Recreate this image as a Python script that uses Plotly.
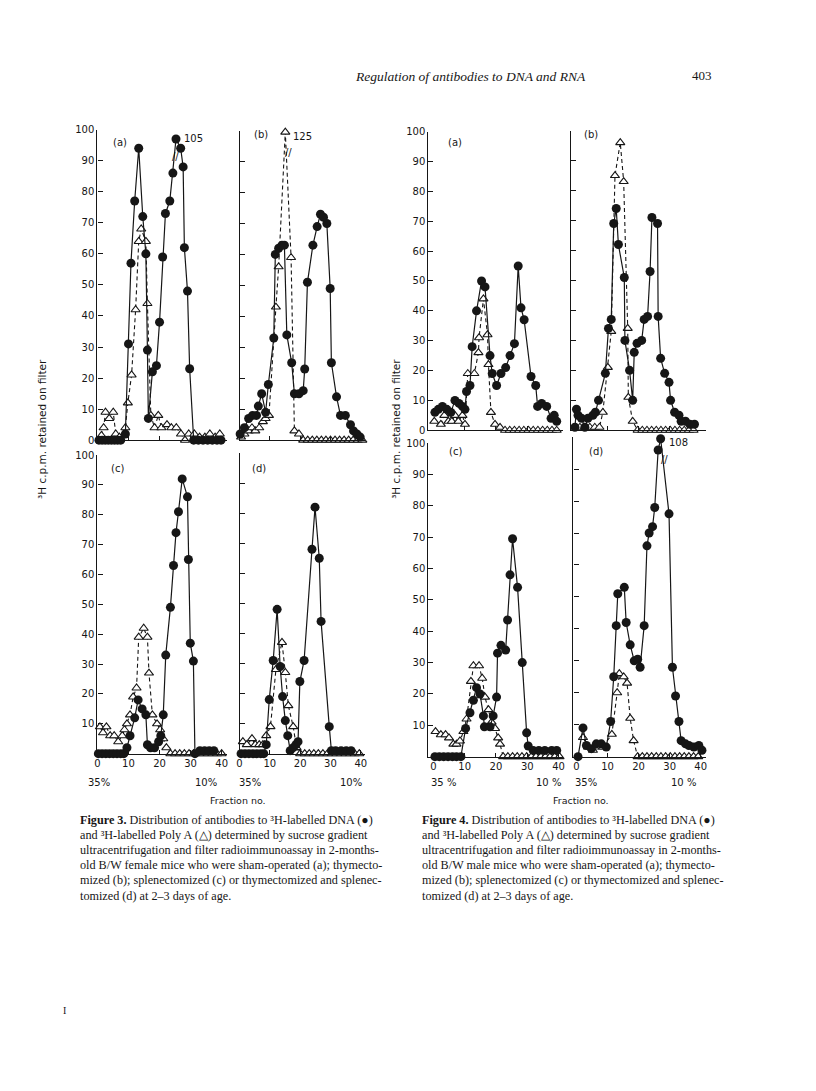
import plotly.graph_objects as go

W, H = 816, 1091
INK = "#161616"
SANS = "DejaVu Sans"
SERIF = "Liberation Serif"

# ---- data: fraction no. vs 3H c.p.m. retained on filter ----
# Figure 3 (female B/W mice)
f3a_dna_x = [0.5, 1.5, 2.5, 3.5, 4.5, 5.5, 6.5, 7.5, 9.0, 10.0, 10.8, 12.0, 13.3, 14.6, 15.6, 16.1, 16.4, 17.7, 19.0,
             20.0, 21.0, 21.9, 23.3, 24.3, 25.3, 26.8, 27.6, 28.0, 29.0, 29.7, 31.0, 32.5, 34.0, 35.5, 37.0, 38.5, 39.8]
f3a_dna_y = [0, 0, 0, 0, 0, 0, 0, 0, 2, 31, 57, 77, 94, 72, 60, 29, 7, 22, 24,
             38, 59, 73, 77, 86, 105, 94, 88, 62, 48, 23, 0, 0, 0, 0, 0, 0, 0]
f3a_pa_x = [1.3, 2.0, 2.6, 3.8, 5.1, 5.9, 7.1, 9.0, 9.8, 11.0, 12.3, 13.3, 14.1, 15.6, 16.1, 17.2,
            18.4, 19.6, 20.6, 22.4, 23.8, 25.4, 26.9, 28.2, 29.4, 31.2, 32.9, 34.6, 36.2, 37.9, 39.4]
f3a_pa_y = [1.5, 4, 9, 7, 9, 2, 1, 4, 12, 21, 42, 64, 68, 64, 44, 8,
            4, 8, 4, 5, 4, 4, 2, 0, 2, 2, 1, 1, 2, 1, 2]

f3b_dna_x = [0.2, 1.6, 3.0, 4.3, 5.6, 6.2, 7.3, 8.6, 9.5, 11.3, 11.8, 12.9, 14.0, 14.8, 15.6, 17.2, 18.1, 19.6,
             21.0, 21.5, 22.4, 24.2, 25.6, 26.7, 27.7, 28.8, 29.9, 30.3, 32.0, 33.3, 34.9, 36.6, 37.6, 38.7, 39.8]
f3b_dna_y = [2, 4, 7, 8, 8, 11, 15, 9, 18, 33, 60, 62, 63, 63, 34, 25, 15, 15,
             16, 23, 51, 63, 69, 73, 72, 70, 49, 25, 14, 8, 8, 5, 3, 2, 1]
f3b_pa_x = [0.5, 1.6, 3.0, 4.1, 5.2, 6.5, 7.7, 8.6, 9.7, 12.0, 12.9, 15.1, 17.0, 18.1, 19.6,
            21.0, 22.5, 24.0, 25.5, 27.0, 28.5, 30.0, 31.5, 33.0, 34.5, 36.0, 37.5, 39.0, 40.5]
f3b_pa_y = [1, 2, 3, 4, 3, 4, 6, 7, 8, 43, 56, 125, 59, 3, 2,
            0, 0, 0, 0, 0, 0, 0, 0, 0, 0, 0, 0, 0, 0]

f3c_dna_x = [0.3, 1.5, 2.7, 3.9, 5.1, 6.3, 7.5, 8.5, 9.5, 10.5, 12.0, 13.1, 14.4, 15.6, 16.1, 17.1, 18.4, 19.7,
             20.4, 21.2, 22.0, 23.5, 24.5, 25.3, 26.1, 27.3, 29.0, 29.3, 29.9, 30.9, 31.4, 33.0, 34.5, 36.0, 37.5]
f3c_dna_y = [0, 0, 0, 0, 0, 0, 0, 0, 2, 6, 12, 18, 15, 13, 3, 2, 2, 4,
             6, 13, 33, 49, 63, 74, 81, 92, 86, 65, 37, 31, 0, 1, 1, 1, 1]
f3c_pa_x = [0.8, 1.8, 2.9, 4.1, 5.4, 6.7, 8.0, 8.7, 9.5, 10.5, 11.5, 12.6, 13.3, 14.9, 16.1, 16.6, 17.7,
            19.2, 20.2, 21.2, 22.2, 23.5, 25.0, 26.5, 28.0, 29.5, 31.0, 32.5, 34.0, 35.5, 37.0, 38.5, 40.0]
f3c_pa_y = [9, 7, 9, 6, 6, 4, 6, 8, 10, 13, 19, 22, 39, 42, 39, 27, 13,
            10, 8, 5, 2, 0, 0, 0, 0, 0, 0, 0, 0, 0, 0, 0, 0]

f3d_dna_x = [0.5, 1.8, 3.1, 4.4, 5.7, 7.0, 8.0, 8.8, 9.8, 11.1, 12.4, 13.4, 14.2, 15.1, 15.9, 16.7,
             17.7, 18.6, 19.3, 19.9, 21.3, 23.9, 24.9, 26.3, 26.9, 29.6, 30.3, 31.7, 33.5, 35.2, 36.8]
f3d_dna_y = [0, 0, 0, 0, 0, 0, 0, 3, 18, 31, 48, 29, 19, 11, 6, 1,
             2, 3, 4, 24, 31, 68, 82, 65, 44, 9, 1, 1, 1, 1, 1]
f3d_pa_x = [1.1, 2.4, 4.1, 5.2, 6.5, 7.7, 8.8, 10.2, 12.0, 14.0, 15.1, 16.1, 17.7, 18.8,
            20.0, 21.5, 23.0, 24.5, 26.0, 27.5, 29.0, 30.5, 32.0, 33.5, 35.0, 36.5, 38.0, 39.5]
f3d_pa_y = [4, 3, 5, 3, 3, 3, 6, 9, 28, 37, 27, 16, 9, 2,
            0, 0, 0, 0, 0, 0, 0, 0, 0, 0, 0, 0, 0, 0]

# Figure 4 (male B/W mice)
f4a_dna_x = [0.5, 1.6, 2.9, 4.3, 5.6, 6.9, 8.2, 9.3, 10.1, 10.6, 11.7, 12.4, 13.8, 15.4, 16.5, 18.1, 18.8,
             20.2, 21.6, 23.1, 24.5, 25.9, 27.1, 28.0, 29.0, 31.2, 32.7, 33.3, 34.6, 36.2, 37.6, 38.6, 39.4]
f4a_dna_y = [6, 7, 8, 7, 6, 10, 9, 8, 7, 13, 15, 28, 40, 50, 48, 25, 19,
             15, 19, 21, 25, 29, 55, 41, 37, 18, 15, 8, 9, 8, 4, 5, 3]
f4a_pa_x = [0.3, 2.4, 3.5, 4.8, 5.9, 6.9, 8.0, 9.3, 10.1, 11.0, 13.1, 14.4, 14.6, 16.0, 17.3, 17.6, 18.4, 19.7,
            21.3, 22.9, 24.4, 25.9, 27.4, 28.9, 30.4, 31.9, 33.4, 34.9, 36.4, 37.9, 39.4]
f4a_pa_y = [3, 2, 5, 3, 3, 5, 3, 5, 2, 19, 19, 26, 31, 44, 32, 22, 6, 2,
            1, 0, 0, 0, 0, 0, 0, 0, 0, 0, 0, 0, 0]

f4b_dna_x = [-0.5, 0.0, 0.5, 1.6, 2.7, 3.7, 5.3, 6.1, 7.1, 9.3, 10.3, 11.2, 12.0, 12.8, 13.5, 15.4, 15.6, 17.1, 18.1,
             18.6, 19.5, 21.0, 21.8, 22.9, 23.7, 24.3, 26.1, 26.3, 27.1, 28.4, 29.8, 30.3, 31.6, 33.0, 33.7, 35.1,
             36.5, 38.0]
f4b_dna_y = [1, 7, 5, 4, 1, 4, 5, 6, 10, 19, 34, 37, 69, 74, 62, 51, 30, 20, 10,
             26, 29, 30, 37, 38, 53, 71, 69, 38, 24, 19, 16, 10, 6, 5, 3, 3,
             2, 2]
f4b_pa_x = [1.1, 2.7, 4.3, 5.9, 7.4, 8.5, 10.1, 11.2, 12.4, 14.1, 15.2, 16.5, 16.7, 18.1,
            19.7, 21.2, 22.7, 24.2, 25.7, 27.2, 28.7, 30.2, 31.7, 33.2, 34.7, 36.2, 37.7]
f4b_pa_y = [1, 1, 1, 1, 1, 6, 21, 33, 85, 96, 83, 34, 11, 3,
            0, 0, 0, 0, 0, 0, 0, 0, 0, 0, 0, 0, 0]

f4c_dna_x = [0.5, 1.9, 3.3, 4.7, 6.1, 7.4, 8.8, 10.3, 11.7, 12.8, 13.8, 14.9, 16.0, 16.3, 18.1, 19.1,
             20.2, 20.5, 21.6, 23.1, 23.7, 24.5, 25.3, 26.9, 28.4, 29.8, 30.3, 31.9, 33.7, 35.6, 37.8, 39.4]
f4c_dna_y = [0, 0, 0, 0, 0, 0, 0, 9, 14, 18, 22, 20, 13, 9.5, 9.5, 13,
             19, 33, 35.5, 34, 43.6, 58, 69.5, 54, 30, 7.6, 3.4, 2, 2, 2, 2, 2]
f4c_pa_x = [0.7, 2.4, 3.9, 5.0, 6.4, 7.4, 8.5, 9.6, 10.6, 12.0, 12.8, 14.6, 15.6, 16.5, 17.6, 18.6, 19.7, 20.7,
            21.3, 22.3, 23.8, 25.3, 26.8, 28.3, 29.8, 31.3, 32.8, 34.3, 35.8, 37.3, 38.8, 40.3]
f4c_pa_y = [8, 7, 7, 6, 4, 4, 5, 8, 12, 24, 29, 29, 25, 19, 15, 11, 9, 6,
            4, 0, 0, 0, 0, 0, 0, 0, 0, 0, 0, 0, 0, 0]

f4d_dna_x = [0.5, 2.1, 3.2, 4.8, 6.4, 8.0, 9.6, 11.0, 12.0, 12.8, 13.3, 15.4, 16.0, 17.3, 18.6, 19.7, 20.5,
             21.8, 22.7, 23.4, 24.5, 25.2, 26.3, 27.1, 29.8, 30.9, 31.9, 33.0, 33.7, 35.1, 36.2, 37.8, 39.4, 40.4]
f4d_dna_y = [0, 9, 3.5, 2.5, 4, 4, 3, 11, 25, 41, 51, 53, 42, 35, 30, 30.5, 28,
             41, 66, 70, 72, 78, 96, 108, 76, 28, 19, 11, 5, 4, 3.5, 3, 3.5, 2]
f4d_pa_x = [2.1, 3.7, 5.3, 6.9, 8.5, 11.4, 13.1, 13.8, 15.2, 16.3, 17.3, 18.4,
            19.7, 21.2, 22.7, 24.2, 25.7, 27.2, 28.7, 30.2, 31.7, 33.2, 34.7, 36.2, 37.7, 39.2]
f4d_pa_y = [6, 3, 2, 3, 3, 7, 20, 26, 25, 23, 12, 5,
            0, 0, 0, 0, 0, 0, 0, 0, 0, 0, 0, 0, 0, 0]

y_ticks = list(range(0, 101, 10))
x_ticks = [0, 10, 20, 30, 40]

# box = (axis left px, axis right px, px of fraction 0, px of fraction 40, px of value 0, px of value 100)
panels = [
    dict(dna=(f3a_dna_x, f3a_dna_y), pa=(f3a_pa_x, f3a_pa_y), tag="(a)", tagpos=(118, 138),
         box=(95, 225, 95, 220, 439, 125), ylab="all", xlab=False, cap=97, brk=(25.0, 91.5), capshift=0),
    dict(dna=(f3b_dna_x, f3b_dna_y), pa=(f3b_pa_x, f3b_pa_y), tag="(b)", tagpos=(260, 130),
         box=(238, 364, 238, 360, 439, 126), ylab=None, xlab=False, cap=99.5, brk=(16.0, 93), capshift=-4),
    dict(dna=(f3c_dna_x, f3c_dna_y), pa=(f3c_pa_x, f3c_pa_y), tag="(c)", tagpos=(115, 468),
         box=(95, 225, 95, 220, 756, 454), ylab="no0", xlab=True, cap=None, brk=None, capshift=0),
    dict(dna=(f3d_dna_x, f3d_dna_y), pa=(f3d_pa_x, f3d_pa_y), tag="(d)", tagpos=(258, 468),
         box=(238, 364, 238, 360, 756, 452), ylab=None, xlab=True, cap=None, brk=None, capshift=0),
    dict(dna=(f4a_dna_x, f4a_dna_y), pa=(f4a_pa_x, f4a_pa_y), tag="(a)", tagpos=(455, 138),
         box=(428, 563, 433, 559, 429, 127), ylab="all", xlab=False, cap=None, brk=None, capshift=0),
    dict(dna=(f4b_dna_x, f4b_dna_y), pa=(f4b_pa_x, f4b_pa_y), tag="(b)", tagpos=(592, 130),
         box=(571, 707, 577, 702, 429, 126), ylab=None, xlab=False, cap=None, brk=None, capshift=0),
    dict(dna=(f4c_dna_x, f4c_dna_y), pa=(f4c_pa_x, f4c_pa_y), tag="(c)", tagpos=(455, 450),
         box=(428, 563, 433, 559, 759, 442), ylab="no0", xlab=True, cap=None, brk=None, capshift=0),
    dict(dna=(f4d_dna_x, f4d_dna_y), pa=(f4d_pa_x, f4d_pa_y), tag="(d)", tagpos=(597, 450),
         box=(574, 707, 577, 702, 759, 436), ylab=None, xlab=True, cap=99.5, brk=(28.2, 93), capshift=-4),
]


def ann(text, px, py, size=10, family=SANS, **kw):
    d = dict(text=text, x=px / W, y=1 - py / H, xref="paper", yref="paper", showarrow=False,
             font=dict(family=family, size=size, color=INK), xanchor="center", yanchor="middle")
    d.update(kw)
    return d


fig = go.Figure()
annotations = []
layout = {}

for i, p in enumerate(panels, start=1):
    xid = "x" if i == 1 else f"x{i}"
    yid = "y" if i == 1 else f"y{i}"
    left, right, x0, x40, y0, y100 = p["box"]
    ppf = (x40 - x0) / 40.0
    cap = p["cap"] if p["cap"] else 1e9

    pa_x, pa_y = p["pa"]
    dna_x, dna_y = p["dna"]
    fig.add_trace(go.Scatter(
        x=pa_x, y=[min(v, cap) for v in pa_y], xaxis=xid, yaxis=yid, mode="lines+markers",
        line=dict(color=INK, width=1.1, dash="4px,3px"), cliponaxis=False,
        marker=dict(symbol="triangle-up", size=8, color="white", line=dict(color=INK, width=1.1))))
    fig.add_trace(go.Scatter(
        x=dna_x, y=[min(v, cap) for v in dna_y], xaxis=xid, yaxis=yid, mode="lines+markers",
        line=dict(color=INK, width=1.2), cliponaxis=False,
        marker=dict(symbol="circle", size=9, color=INK)))

    # off-scale values written beside the broken line
    for xs, ys in (p["pa"], p["dna"]):
        for xv, v in zip(xs, ys):
            if v > cap:
                annotations.append(dict(text=str(v), x=xv, y=cap, xref=xid, yref=yid, showarrow=False,
                                        xanchor="left", yanchor="middle", xshift=6, yshift=p["capshift"],
                                        font=dict(family=SANS, size=10, color=INK)))
    if p["brk"]:
        annotations.append(dict(text="//", x=p["brk"][0], y=p["brk"][1], xref=xid, yref=yid, showarrow=False,
                                font=dict(family=SANS, size=10, color=INK)))

    annotations.append(ann(p["tag"], *p["tagpos"], size=10))

    xkey = "xaxis" if i == 1 else f"xaxis{i}"
    ykey = "yaxis" if i == 1 else f"yaxis{i}"
    layout[xkey] = dict(
        domain=[left / W, right / W], range=[(left - x0) / ppf, (right - x0) / ppf], anchor=yid,
        showline=True, linecolor=INK, linewidth=1.2, showgrid=False, zeroline=False,
        ticks="inside", ticklen=4, tickcolor=INK,
        tickvals=x_ticks if p["xlab"] else [10, 20, 30],
        showticklabels=p["xlab"], tickfont=dict(family=SANS, size=10, color=INK))
    if p["ylab"] == "all":
        ytext = [str(v) for v in y_ticks]
    elif p["ylab"] == "no0":
        ytext = [""] + [str(v) for v in y_ticks[1:]]
    else:
        ytext = ["" for v in y_ticks]
    layout[ykey] = dict(
        domain=[1 - y0 / H, 1 - y100 / H], range=[0, 100], anchor=xid,
        showline=True, linecolor=INK, linewidth=1.2, showgrid=False, zeroline=False,
        ticks="inside", ticklen=5, tickcolor=INK, tickvals=y_ticks, ticktext=ytext,
        showticklabels=p["ylab"] is not None, tickfont=dict(family=SANS, size=10, color=INK))

# axis titles and scale notes
for cx in (40, 396):
    annotations.append(ann("³H c.p.m. retained on filter", cx, 428, size=10.5, textangle=-90))
for txt, px in (("35%", 97), ("10%", 204), ("35%", 249), ("10%", 350),
                ("35 %", 443), ("10 %", 549), ("35%", 587), ("10 %", 685)):
    annotations.append(ann(txt, px, 785, size=10))
annotations.append(ann("Fraction no.", 236, 803, size=9.5))
annotations.append(ann("Fraction no.", 582, 803, size=9.5))

# running head
annotations.append(ann("<i>Regulation of antibodies to DNA and RNA</i>", 470, 71, size=13.5, family=SERIF))
annotations.append(ann("403", 703, 70, size=13, family=SERIF))
annotations.append(ann("I", 62, 1016, size=10, family=SERIF))

cap3 = ["<b>Figure 3.</b> Distribution of antibodies to ³H-labelled DNA (●)",
        "and ³H-labelled Poly A (△) determined by sucrose gradient",
        "ultracentrifugation and filter radioimmunoassay in 2-months-",
        "old B/W female mice who were sham-operated (a); thymecto-",
        "mized (b); splenectomized (c) or thymectomized and splenec-",
        "tomized (d) at 2–3 days of age."]
cap4 = ["<b>Figure 4.</b> Distribution of antibodies to ³H-labelled DNA (●)",
        "and ³H-labelled Poly A (△) determined by sucrose gradient",
        "ultracentrifugation and filter radioimmunoassay in 2-months-",
        "old B/W male mice who were sham-operated (a); thymecto-",
        "mized (b); splenectomized (c) or thymectomized and splenec-",
        "tomized (d) at 2–3 days of age."]
for lines, lx in ((cap3, 75), (cap4, 420)):
    for k, line in enumerate(lines):
        annotations.append(ann(line, lx, 823 + k * 15.3, size=12.2, family=SERIF,
                               xanchor="left", align="left"))

fig.update_layout(
    width=W, height=H, margin=dict(l=0, r=0, t=0, b=0),
    paper_bgcolor="white", plot_bgcolor="rgba(0,0,0,0)", showlegend=False,
    annotations=annotations, **layout)

# drop the browser's default page margin so the figure sits at the window origin
fig.write_html("out.html", config={"displayModeBar": False},
               post_script="document.body.style.margin='0';")
